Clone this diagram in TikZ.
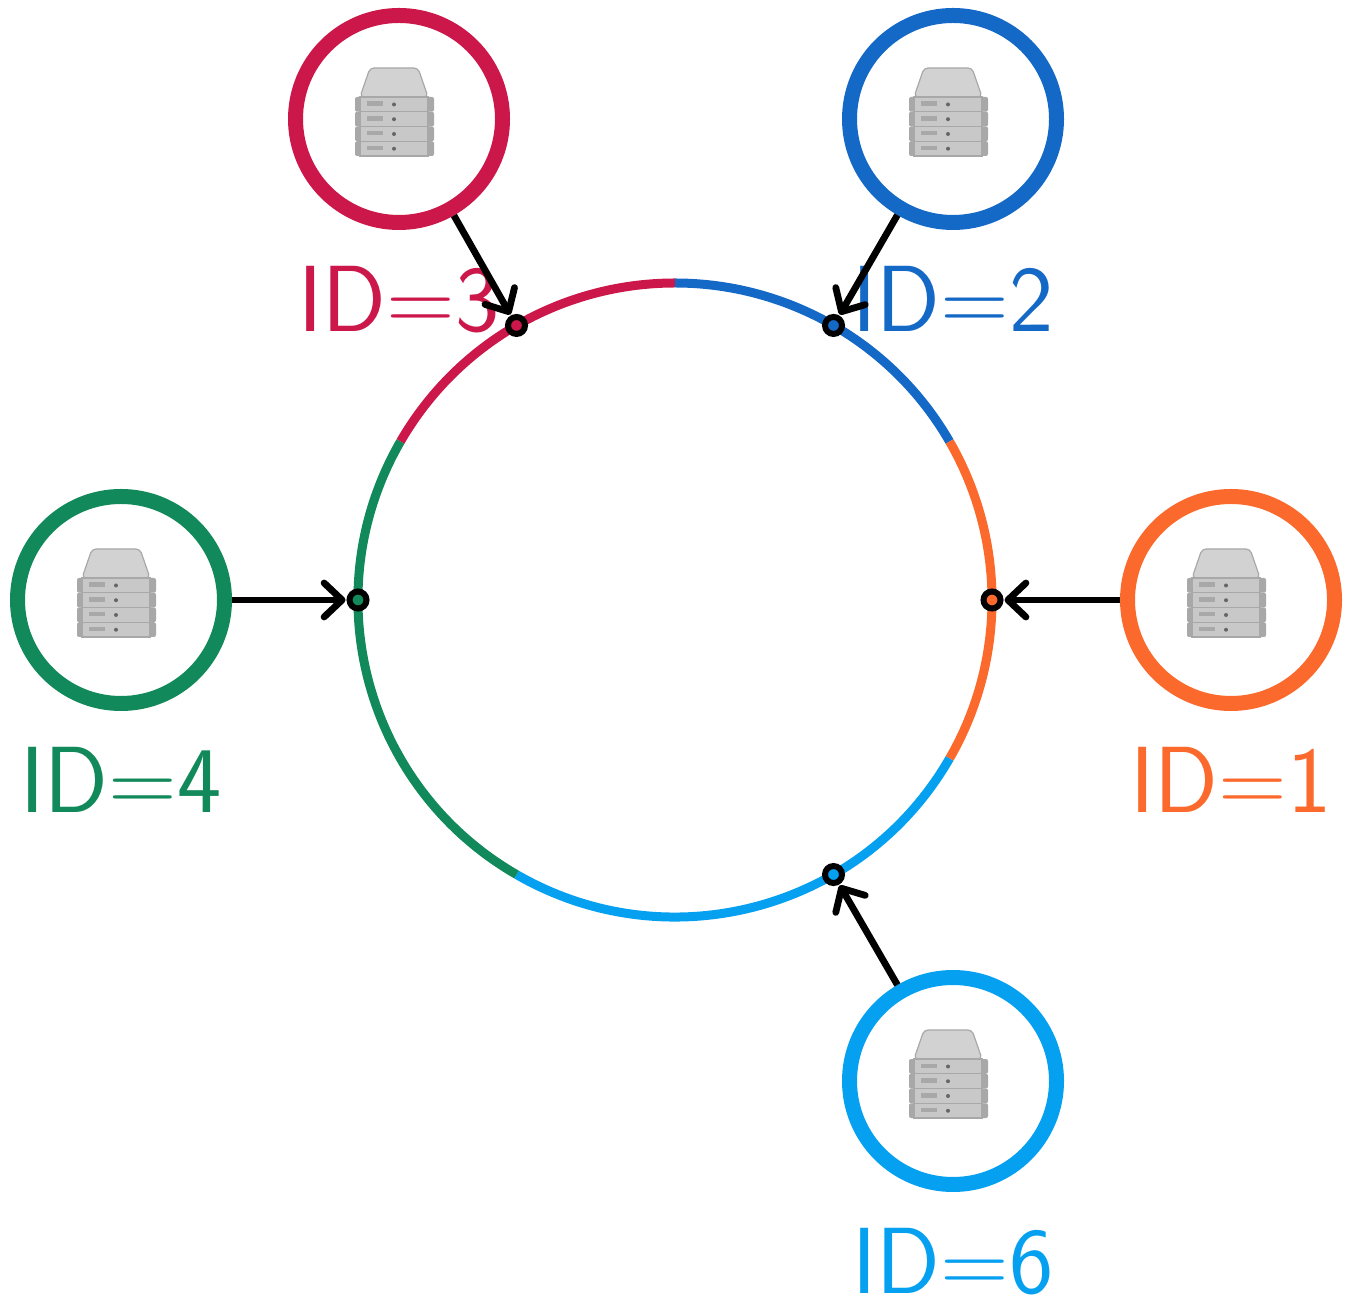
\documentclass[tikz,border=0pt]{standalone}
\usetikzlibrary{arrows.meta,positioning,calc}
\definecolor{idred}{HTML}{CB1749}
\definecolor{idblue}{HTML}{1468C6}
\definecolor{idorange}{HTML}{FB6A2C}
\definecolor{idgreen}{HTML}{12895A}
\definecolor{idsky}{HTML}{06A0F0}
\definecolor{rackc}{HTML}{C8C8C8}
\definecolor{rackedge}{HTML}{A8A8A8}
\definecolor{lidc}{HTML}{D2D2D2}

\begin{document}
\begin{tikzpicture}[
  x=0.5pt, y=0.5pt,
  font=\sffamily,
  >={Straight Barb[round,length=9pt,width=17pt]},
  hostc/.style={circle, draw=#1, line width=7.5pt, inner sep=0pt, minimum size=103.5pt},
  idlabel/.style={text=#1, inner sep=0pt, font=\sffamily\fontsize{47}{50}\selectfont},
  joinpt/.style={circle, draw=black, fill=#1, line width=3pt, inner sep=0pt, minimum size=8.5pt},
  flow/.style={->, draw=black, line width=3.4pt, shorten >=0.5pt},
  serverstack/.pic={
    \draw[draw=rackedge, fill=lidc, line width=0.6pt, rounded corners=2pt]
      (-39,22) -- (-29,51) -- (19,51) -- (29,22) -- cycle;
    \foreach \ly in {22,7.25,-7.5,-22.25} {
      \fill[rackedge, rounded corners=1pt] (-44,\ly) rectangle (35,\ly-14.75);
      \draw[draw=rackedge, fill=rackc, line width=0.6pt] (-39,\ly) rectangle (29,\ly-14.75);
      \fill[rackedge] (-32,\ly-4.5) rectangle (-16,\ly-9);
      \fill[black!60] (-5,\ly-7.5) circle (1pt);
    }
  },
]
\useasboundingbox (0,0) rectangle (1352,1300);

% ---- main ring ----
\coordinate (ring) at (675,700);
\foreach \from/\to/\col in {90/150/idred, 30/90/idblue, -30/30/idorange, -120/-30/idsky, 150/240/idgreen} {
  \draw[draw=\col, line width=4.5pt] ($(ring)+(\from:317)$) arc[start angle=\from, end angle=\to, radius=317];
}

% ---- hosts ----
\node[hostc=idred] (host3) at (399,1181) {};
\node[hostc=idblue] (host2) at (953,1181) {};
\node[hostc=idgreen] (host4) at (121,700) {};
\node[hostc=idorange] (host1) at (1231,700) {};
\node[hostc=idsky] (host6) at (953,219) {};
\foreach \h in {host1,host2,host3,host4,host6} {
  \pic at (\h) {serverstack};
}

% ---- labels ----
\node[idlabel=idred, below=18pt of host3] (id3) {ID=3};
\node[idlabel=idblue, below=18pt of host2] (id2) {ID=2};
\node[idlabel=idgreen, below=18pt of host4] (id4) {ID=4};
\node[idlabel=idorange, below=18pt of host1] (id1) {ID=1};
\node[idlabel=idsky, below=18pt of host6] (id6) {ID=6};

% ---- join points on the ring ----
\node[joinpt=idred] (pt3) at ($(ring)+(120:317)$) {};
\node[joinpt=idblue] (pt2) at ($(ring)+(60:317)$) {};
\node[joinpt=idgreen] (pt4) at ($(ring)+(180:317)$) {};
\node[joinpt=idorange] (pt1) at ($(ring)+(0:317)$) {};
\node[joinpt=idsky] (pt6) at ($(ring)+(-60:317)$) {};

% ---- flow edges ----
\draw[flow] (host3) -- (pt3);
\draw[flow] (host2) -- (pt2);
\draw[flow] (host4) -- (pt4);
\draw[flow] (host1) -- (pt1);
\draw[flow] (host6) -- (pt6);
\end{tikzpicture}
\end{document}
